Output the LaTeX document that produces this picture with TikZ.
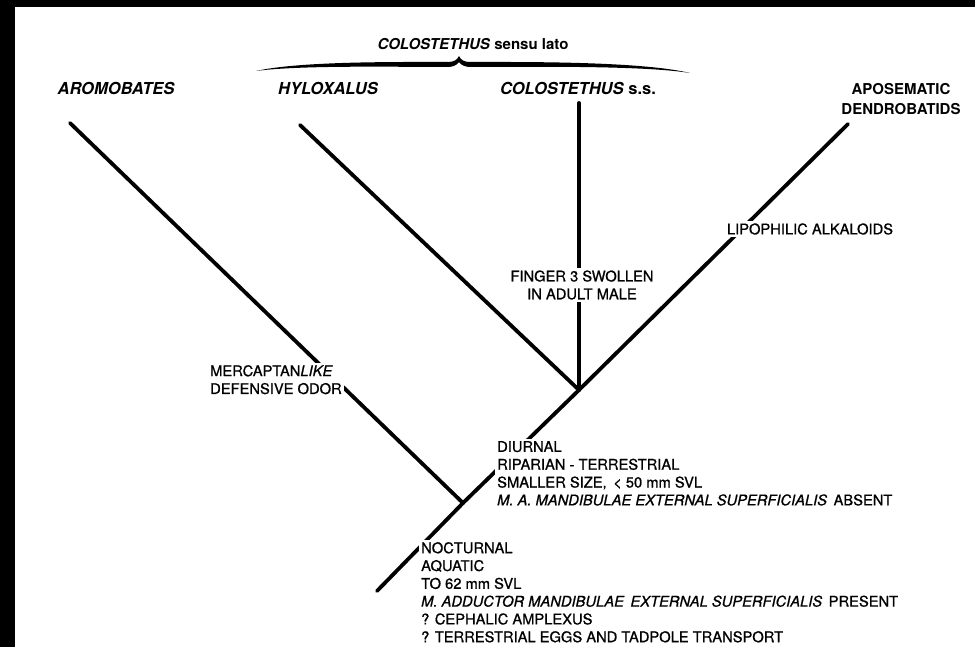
\documentclass[tikz,border=0pt]{standalone}
\usepackage{fontspec}
\setmainfont{TeX Gyre Heros}
\newfontfamily\labfont[RawFeature={embolden=0.9}]{TeX Gyre Heros}
\begin{document}
\begin{tikzpicture}[x=1pt,y=-1pt,
  branch/.style={line width=3.8pt, line cap=round, line join=round},
  lab/.style={font=\labfont\fontsize{14.7}{17.8}\selectfont, align=left, fill=white, inner sep=2pt},
  labc/.style={lab, align=center},
  taxon/.style={font=\fontsize{16.5}{20}\selectfont\bfseries\itshape, inner sep=0pt},
  taxonup/.style={font=\fontsize{15}{20}\selectfont\bfseries, align=center, inner sep=0pt},
]
\useasboundingbox (0,0) rectangle (975,647);
\fill[white] (0,0) rectangle (975,647);
\fill[black] (0,0) rectangle (15,647);
\fill[black] (0,0) rectangle (975,7);

% tree
\coordinate (r0) at (377,591);
\coordinate (a) at (463,503);
\coordinate (b) at (579,390);
\coordinate (t1) at (70,123);
\coordinate (t2) at (300,125);
\coordinate (t3) at (579,103);
\coordinate (t4) at (848,124);
\draw[branch] (r0) -- (a);
\draw[branch] (a) -- (b);
\draw[branch] (a) -- (t1);
\draw[branch] (b) -- (t2);
\draw[branch] (b) -- (t3);
\draw[branch] (b) -- (t4);

% brace
\fill[black] (256,71) .. controls (300,61) and (400,62) .. (448,62)
  .. controls (454,62) and (457,60) .. (459,56)
  .. controls (461,60) and (464,62) .. (470,62)
  .. controls (520,62) and (640,61) .. (690,73)
  .. controls (640,65) and (520,67) .. (470,67)
  .. controls (465,67) and (461,65) .. (459,62)
  .. controls (457,65) and (453,67) .. (448,67)
  .. controls (400,67) and (300,65) .. (256,71) -- cycle;

% titles
\node[font=\fontsize{15}{18}\selectfont\bfseries, inner sep=0pt] (sl) at (473,44) {\textit{COLOSTETHUS} sensu lato};
\node[taxon] (aro) at (116,88) {AROMOBATES};
\node[taxon] (hyl) at (328,88) {HYLOXALUS};
\node[font=\fontsize{16.5}{20}\selectfont\bfseries, inner sep=0pt] (col) at (578,88) {\textit{COLOSTETHUS} s.s.};
\node[taxonup] (apo) at (901,99) {APOSEMATIC\\DENDROBATIDS};

% character labels
\node[lab, anchor=north west] (merc) at (208,363) {MERCAPTAN\textit{LIKE}\\DEFENSIVE ODOR};
\node[labc] (fing) at (582,285) {FINGER 3 SWOLLEN\\IN ADULT MALE};
\node[lab] (lipo) at (810,229) {LIPOPHILIC ALKALOIDS};
\node[lab, anchor=north west] (diur) at (495,439) {DIURNAL\\RIPARIAN - TERRESTRIAL\\SMALLER SIZE, \,< 50 mm SVL\\\textit{M. A. MANDIBULAE EXTERNAL SUPERFICIALIS} \,ABSENT};
\node[lab, anchor=north west] (noct) at (419,540) {NOCTURNAL\\AQUATIC\\TO 62 mm SVL\\\textit{M. ADDUCTOR MANDIBULAE \,EXTERNAL SUPERFICIALIS} \,PRESENT\\? CEPHALIC AMPLEXUS\\? TERRESTRIAL EGGS AND TADPOLE TRANSPORT};
\end{tikzpicture}
\end{document}
